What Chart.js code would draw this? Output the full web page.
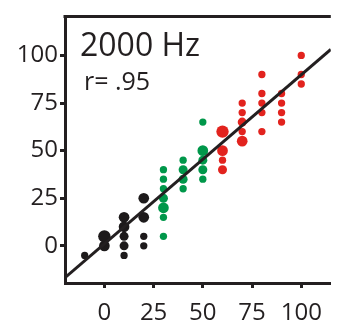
<!DOCTYPE html>
<html>
<head>
<meta charset="utf-8">
<title>2000 Hz</title>
<script src="https://cdn.jsdelivr.net/npm/chart.js@4/dist/chart.umd.min.js"></script>
<style>
    html, body { margin: 0; padding: 0; background: #fff; overflow: hidden; }
    #wrap { width: 337px; height: 323px; }
</style>
</head>
<body>
<div id="wrap"><canvas id="scatter" width="337" height="323"></canvas></div>
<script>
// --- 1. DATA ---
// n = how many observations overlap at that spot (drawn as bigger dots)
const blackX = [-10, 0, 0, 10, 10, 10, 10, 10, 20, 20, 20, 20];
const blackY = [-5, 5, 0, 15, 10, 5, 0, -5, 25, 15, 5, 0];
const blackN = [1, 4, 3, 3, 3, 2, 2, 1, 3, 3, 1, 1];

const greenX = [30, 30, 30, 30, 30, 30, 30, 40, 40, 40, 40, 50, 50, 50, 50, 50];
const greenY = [40, 35, 30, 25, 20, 15, 5, 45, 40, 35, 30, 65, 50, 45, 40, 35];
const greenN = [1, 1, 1, 2, 3, 1, 1, 1, 2, 2, 1, 1, 3, 2, 2, 1];

const redX = [60, 60, 60, 60, 70, 70, 70, 70, 70, 80, 80, 80, 80, 80, 90, 90, 90, 90, 100, 100, 100];
const redY = [60, 50, 45, 40, 75, 70, 65, 60, 55, 90, 80, 75, 70, 60, 80, 75, 70, 65, 100, 90, 85];
const redN = [4, 3, 1, 2, 1, 1, 2, 1, 3, 1, 1, 1, 1, 1, 1, 1, 1, 1, 1, 1, 1];

// regression fit end points
const fitX = [-20, 115];
const fitY = [-16.7, 103.2];

const xTicks = [0, 25, 50, 75, 100];
const yTicks = [0, 25, 50, 75, 100];

const titleText = '2000 Hz';
const rText = 'r= .95';

// --- 2. STYLE ---
const INK = '#231f20';
const COLORS = { black: '#1d1a1b', green: '#00974a', red: '#e2231e' };
const FONT = '"Open Sans", "DejaVu Sans", sans-serif';

const toPoints = (xs, ys) => xs.map((x, i) => ({ x: x, y: ys[i] }));
const radiusFor = (ns) => ns.map(n => 2.8 + 0.85 * n);

function dotSet(label, xs, ys, ns, color) {
    return {
        type: 'scatter',
        label: label,
        data: toPoints(xs, ys),
        pointRadius: radiusFor(ns),
        pointHoverRadius: radiusFor(ns),
        pointBackgroundColor: color,
        pointBorderWidth: 0,
        borderColor: color,
        order: 1
    };
}

// --- 3. PLUGINS ---
// top frame line + the two text lines in the corner
const framePlugin = {
    id: 'frame',
    afterDraw(chart) {
        const { ctx, chartArea } = chart;
        ctx.save();
        ctx.strokeStyle = INK;
        ctx.lineWidth = 3;
        ctx.beginPath();
        ctx.moveTo(chartArea.left - 1.5, chartArea.top);
        ctx.lineTo(chartArea.right, chartArea.top);
        ctx.stroke();

        ctx.fillStyle = INK;
        ctx.textBaseline = 'alphabetic';
        ctx.textAlign = 'left';
        ctx.font = '32px ' + FONT;
        ctx.fillText(titleText, chartArea.left + 15, chartArea.top + 40);
        ctx.font = '25px ' + FONT;
        ctx.fillText(rText, chartArea.left + 19, chartArea.top + 74);
        ctx.restore();
    }
};

const fixTicks = (list) => (scale) => {
    scale.ticks = list.map(v => ({ value: v }));
};

// --- 4. CHART ---
new Chart(document.getElementById('scatter'), {
    data: {
        datasets: [
            {
                type: 'line',
                label: 'fit',
                data: toPoints(fitX, fitY),
                borderColor: INK,
                borderWidth: 3,
                pointRadius: 0,
                fill: false,
                order: 0
            },
            dotSet('0-20', blackX, blackY, blackN, COLORS.black),
            dotSet('30-50', greenX, greenY, greenN, COLORS.green),
            dotSet('60-100', redX, redY, redN, COLORS.red)
        ]
    },
    options: {
        responsive: false,
        animation: false,
        devicePixelRatio: 1,
        layout: { padding: { top: 8, right: 0, left: 0, bottom: 0 } },
        plugins: {
            legend: { display: false },
            tooltip: { enabled: false }
        },
        scales: {
            x: {
                type: 'linear',
                min: -20,
                max: 115,
                afterBuildTicks: fixTicks(xTicks),
                afterFit: (s) => { s.height = 40; },
                border: { display: true, color: INK, width: 3 },
                grid: { drawOnChartArea: false, drawTicks: true, tickLength: 5, tickWidth: 3, color: INK },
                ticks: { color: INK, padding: 11, font: { family: FONT, size: 24 } }
            },
            y: {
                type: 'linear',
                min: -19.5,
                max: 120.5,
                afterBuildTicks: fixTicks(yTicks),
                afterFit: (s) => { s.width = 65; },
                border: { display: true, color: INK, width: 3 },
                grid: { drawOnChartArea: false, drawTicks: true, tickLength: 5, tickWidth: 3, color: INK },
                ticks: { color: INK, padding: 2, font: { family: FONT, size: 24 } }
            }
        }
    },
    plugins: [framePlugin]
});
</script>
</body>
</html>
